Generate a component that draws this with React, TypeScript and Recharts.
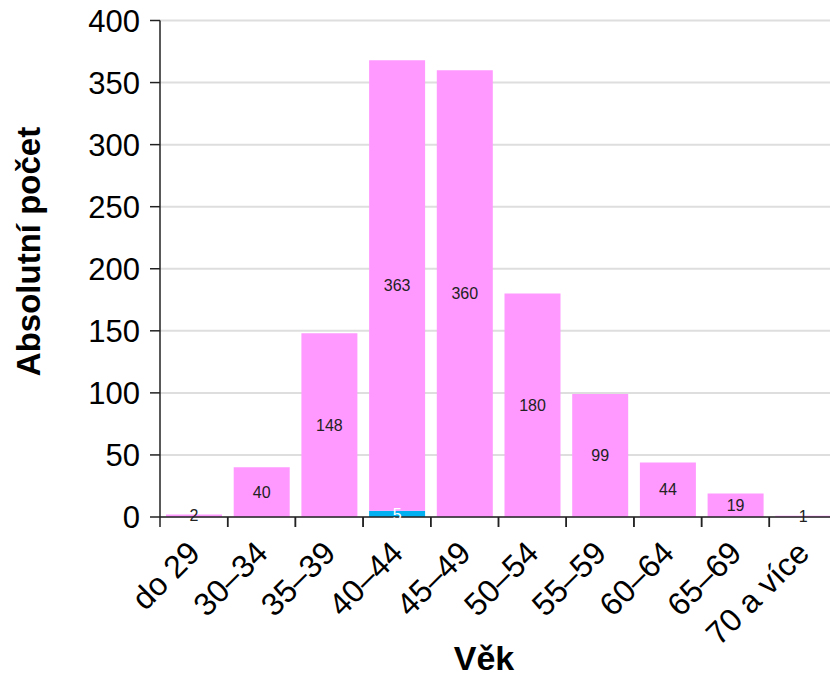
import React from 'react';
import { BarChart, Bar, XAxis, YAxis, CartesianGrid, LabelList } from 'recharts';

const categories = ['do 29', '30–34', '35–39', '40–44', '45–49', '50–54', '55–59', '60–64', '65–69', '70 a více'];
const blueValues = [0, 0, 0, 5, 0, 0, 0, 0, 0, 0];
const pinkValues = [2, 40, 148, 363, 360, 180, 99, 44, 19, 1];
const yTicks = [0, 50, 100, 150, 200, 250, 300, 350, 400];

const data = categories.map((c, i) => ({ cat: c, blue: blueValues[i], pink: pinkValues[i] }));

const CHART_W = 840;
const CHART_H = 677;
const MARGIN = { top: 20.5, right: 3, bottom: 0, left: 0 };
const Y_AXIS_W = 160;
const X_AXIS_H = 160;
const BAND = (CHART_W - MARGIN.left - MARGIN.right - Y_AXIS_W) / categories.length;
const TICK_SIZE = 10;
const FONT = '"Liberation Sans", Arial, Helvetica, sans-serif';
const AXIS_COLOR = '#222';

const XTick = (props: any) => {
  const { x, y, payload } = props;
  const axisY = y - TICK_SIZE;
  const left = x - BAND / 2;
  const right = x + BAND / 2;
  const tx = x + 8;
  const ty = axisY + 38;
  return (
    <g>
      <line x1={left} y1={axisY} x2={left} y2={axisY + TICK_SIZE} stroke={AXIS_COLOR} strokeWidth={1.5} />
      <line x1={right} y1={axisY} x2={right} y2={axisY + TICK_SIZE} stroke={AXIS_COLOR} strokeWidth={1.5} />
      <text
        x={tx}
        y={ty}
        transform={`rotate(-45, ${tx}, ${ty})`}
        textAnchor="end"
        fontSize={32}
        fill="#000"
        fontFamily={FONT}
      >
        {payload.value}
      </text>
    </g>
  );
};

const YTitle = () => (
  <text
    x={40}
    y={251.5}
    transform="rotate(-90, 40, 251.5)"
    textAnchor="middle"
    fontSize={33}
    fontWeight="bold"
    fill="#000"
    fontFamily={FONT}
  >
    Absolutní počet
  </text>
);

const XTitle = () => (
  <text x={484} y={670} textAnchor="middle" fontSize={34} fontWeight="bold" fill="#000" fontFamily={FONT}>
    Věk
  </text>
);

const hideZero = (v: any) => (v ? v : '');

export default function App() {
  return (
    <div
      style={{
        position: 'fixed',
        left: 0,
        top: 0,
        width: 830,
        height: 677,
        overflow: 'hidden',
        background: '#fff',
        fontFamily: FONT,
      }}
    >
      <BarChart width={CHART_W} height={CHART_H} data={data} margin={MARGIN} barSize={56}>
        <CartesianGrid vertical={false} stroke="#dedede" strokeWidth={2} />
        <XAxis
          dataKey="cat"
          height={X_AXIS_H}
          interval={0}
          tickSize={TICK_SIZE}
          tickMargin={0}
          tickLine={false}
          axisLine={{ stroke: AXIS_COLOR, strokeWidth: 1.5 }}
          tick={<XTick />}
          label={<XTitle />}
        />
        <YAxis
          domain={[0, 400]}
          ticks={yTicks}
          interval={0}
          width={Y_AXIS_W}
          tickSize={TICK_SIZE}
          tickMargin={10}
          axisLine={{ stroke: AXIS_COLOR, strokeWidth: 1.5 }}
          tickLine={{ stroke: AXIS_COLOR, strokeWidth: 1.5 }}
          tick={{ fontSize: 31, fill: '#000', fontFamily: FONT }}
          label={<YTitle />}
        />
        <Bar dataKey="blue" stackId="a" fill="#00b0f0" isAnimationActive={false}>
          <LabelList dataKey="blue" position="center" formatter={hideZero} fill="#fff" fontSize={16} fontFamily={FONT} />
        </Bar>
        <Bar dataKey="pink" stackId="a" fill="#ff99ff" isAnimationActive={false}>
          <LabelList dataKey="pink" position="center" formatter={hideZero} fill="#222" fontSize={16} fontFamily={FONT} />
        </Bar>
      </BarChart>
    </div>
  );
}
